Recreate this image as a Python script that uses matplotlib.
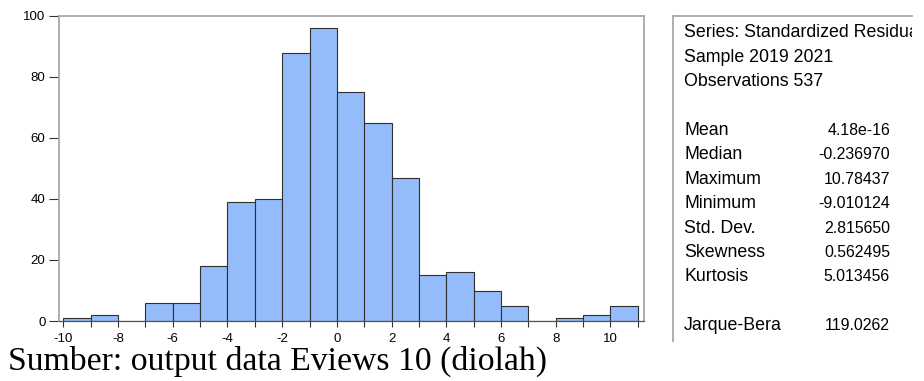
import numpy as np
import matplotlib.pyplot as plt
from matplotlib.ticker import FixedLocator

# =========================
# Data histogram (EViews residual)
# =========================
bin_edges = list(range(-10, 12))
counts = [1, 2, 0, 6, 6, 18, 39, 40, 88, 96, 75, 65, 47, 15, 16, 10, 5, 0, 1, 2, 5]

x_ticks = [-10, -8, -6, -4, -2, 0, 2, 4, 6, 8, 10]
y_ticks = [0, 20, 40, 60, 80, 100]

stat_header = ['Series: Standardized Residuals', 'Sample 2019 2021', 'Observations 537']
stat_names = ['Mean', 'Median', 'Maximum', 'Minimum', 'Std. Dev.', 'Skewness', 'Kurtosis']
stat_values = ['4.18e-16', '-0.236970', '10.78437', '-9.010124', '2.815650', '0.562495', '5.013456']
jb_name = 'Jarque-Bera'
jb_value = '119.0262'

caption = 'Sumber: output data Eviews 10 (diolah)'

W, H = 924, 381
plt.rcParams['font.family'] = ['Liberation Sans', 'DejaVu Sans']
plt.rcParams['axes.unicode_minus'] = False

fig = plt.figure(figsize=(W / 100, H / 100), dpi=100)


def box(x0, y0, x1, y1):
    # pixel box -> figure fraction
    return [x0 / W, 1 - y1 / H, (x1 - x0) / W, (y1 - y0) / H]


# =========================
# Histogram
# =========================
ax = fig.add_axes(box(59, 16, 644, 321))
ax.bar(bin_edges[:-1], counts, width=1, align='edge',
       color='#94bcfa', edgecolor='#2f2f2f', linewidth=0.8)
ax.set_xlim(-10.16, 11.23)
ax.set_ylim(0, 100)

ax.xaxis.set_major_locator(FixedLocator(x_ticks))
ax.xaxis.set_minor_locator(FixedLocator([e for e in bin_edges if e not in x_ticks]))
ax.yaxis.set_major_locator(FixedLocator(y_ticks))
ax.tick_params(axis='both', which='both', direction='out',
               width=0.8, color='#333333', labelsize=9.5)
ax.tick_params(axis='x', which='both', length=4.5, pad=4)
ax.tick_params(axis='y', length=7.5, pad=2.2)

for side in ['top', 'right', 'left']:
    ax.spines[side].set_color('#a8a8a8')
    ax.spines[side].set_linewidth(1.3)
ax.spines['bottom'].set_color('#555555')
ax.spines['bottom'].set_linewidth(0.9)

# =========================
# Stats panel
# =========================
ax2 = fig.add_axes(box(673, 16, 912, 341))
ax2.set_xlim(673, 912)
ax2.set_ylim(341, 16)
ax2.set_xticks([])
ax2.set_yticks([])
ax2.patch.set_alpha(0)
for side in ['right', 'bottom']:
    ax2.spines[side].set_visible(False)
for side in ['top', 'left']:
    ax2.spines[side].set_color('#a8a8a8')
    ax2.spines[side].set_linewidth(1.3)

fs = 12.8
fs_val = 11.4
for i, t in enumerate(stat_header):
    ax2.text(684, 32.5 + i * 24.7, t, fontsize=fs, va='center', ha='left', clip_on=True)

for i, (n, v) in enumerate(zip(stat_names, stat_values)):
    y = 130.5 + i * 24.4
    ax2.text(684, y, n, fontsize=fs, va='center', ha='left', clip_on=True)
    ax2.text(890, y, v, fontsize=fs_val, va='center', ha='right', clip_on=True)

ax2.text(684, 326, jb_name, fontsize=fs, va='center', ha='left', clip_on=True)
ax2.text(890, 326, jb_value, fontsize=fs_val, va='center', ha='right', clip_on=True)

# =========================
# Caption
# =========================
fig.text(8 / W, 1 - 370 / H, caption, family='Liberation Serif',
         fontsize=24.3, ha='left', va='baseline')

fig.savefig('out.png', dpi=100)
